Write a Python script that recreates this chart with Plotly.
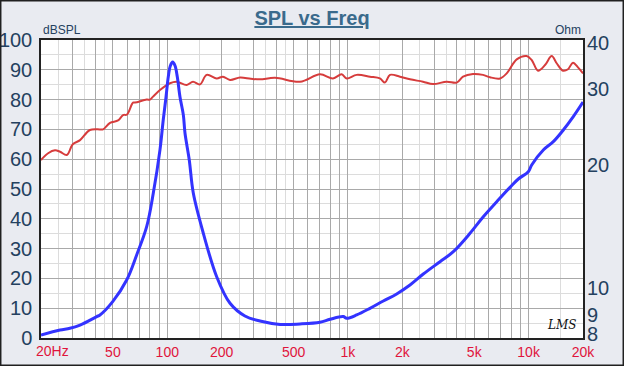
import plotly.graph_objects as go

# ---------------- data ----------------
spl_freq = [20, 21.9, 23.9, 25.5, 27.8, 30, 32.9, 37.3, 42.4, 44.1, 48.2, 53.4, 56.9, 59.8,
            64.6, 66.3, 76.9, 80.2, 83.4, 91.1, 103.5, 112.8, 128.1, 138.8, 151.7, 165.2,
            187.7, 203.4, 222.5, 252.8, 290, 326, 395, 543, 700, 826, 923, 984, 1118, 1324,
            1504, 1603, 1709, 1941, 2205, 2602, 2955, 3520, 4001, 4335, 4922, 5592, 6114,
            6945, 7563, 8591, 9758, 10400, 11271, 12325, 13421, 14303, 15497, 16516, 17600,
            18761, 20000]
spl_db = [59.7, 62.0, 63.0, 62.5, 61.4, 65.0, 66.4, 69.8, 70.0, 70.0, 72.2, 73.0, 74.8, 75.0,
          79.0, 79.0, 80.0, 80.0, 81.0, 83.2, 85.5, 86.0, 84.9, 86.0, 85.1, 88.3,
          87.1, 87.7, 86.6, 87.4, 87.0, 86.8, 87.3, 86.0, 88.5, 87.1, 88.5, 87.1, 88.3, 87.7,
          87.1, 85.7, 88.3, 87.7, 86.8, 86.0, 85.2, 86.0, 85.7, 87.7, 88.6, 88.3, 87.5,
          87.1, 88.8, 93.5, 94.6, 93.3, 89.7, 91.6, 94.6, 92.2, 89.7, 90.2, 92.4,
          90.8, 88.8]

imp_freq = [20, 25.5, 28.9, 32.9, 40.7, 42.4, 50, 59.6, 67.7, 76.9, 83.7, 91.1, 95, 98.4,
            101.3, 104, 107.1, 110.4, 113.6, 117.6, 122.7, 125.3, 132.4, 139.3, 158.2, 187.7,
            222.5, 269, 326, 421, 543, 700, 796, 942, 984, 1118, 1324, 1569, 1861, 2205,
            2612, 3232, 3830, 4738, 5612, 6660, 7888, 8770, 9960, 10400, 12058, 13697,
            15562, 17675, 20000]
imp_ohm = [8.13, 8.35, 8.43, 8.58, 8.98, 9.06, 9.75, 10.94, 12.53, 14.6, 17.5, 22.1, 26.0, 29.4,
           32.8, 34.8, 35.5, 34.8, 32.8, 29.4, 26.7, 24.2, 20.9, 17.5, 14.1, 11.14,
           9.65, 9.01, 8.77, 8.61, 8.63, 8.71, 8.85, 8.98, 8.90, 9.06, 9.39, 9.77, 10.15, 10.65,
           11.30, 12.08, 12.75, 14.08, 15.40, 16.70, 18.05, 18.88, 19.64, 20.37, 22.08, 23.10,
           24.60, 26.44, 28.6]

x_grid_major = [20, 30, 40, 50, 60, 70, 80, 90, 100, 200, 300, 400, 500, 600, 700, 800, 900,
                1000, 2000, 3000, 4000, 5000, 6000, 7000, 8000, 9000, 10000, 20000]
x_label_vals = [50, 100, 200, 500, 1000, 2000, 5000, 10000, 20000]
x_label_text = ["50", "100", "200", "500", "1k", "2k", "5k", "10k", "20k"]
x_grid_minor = [25, 35, 45, 150, 250, 350, 450, 1500, 2500, 3500, 4500, 15000]

y_left_ticks = [0, 10, 20, 30, 40, 50, 60, 70, 80, 90, 100]
# right-axis labels and the places where the reference prints them
y_right_text = ["8", "9", "10", "20", "30", "40"]
y_right_pos = [8.17, 9.06, 10.48, 20.4, 30.7, 39.4]

# ---------------- styles ----------------
FONT = "Liberation Sans, Arial, sans-serif"
AXIS_BLUE = "#24415f"
LABEL_RED = "#e0143c"
BG = "#e9ebf1"

x_ticktext = [x_label_text[x_label_vals.index(v)] if v in x_label_vals else "" for v in x_grid_major]

fig = go.Figure()
fig.add_trace(go.Scatter(x=spl_freq, y=spl_db, mode="lines",
                         line=dict(color="#d63c3c", width=2, shape="spline"),
                         yaxis="y", showlegend=False))
fig.add_trace(go.Scatter(x=imp_freq, y=imp_ohm, mode="lines",
                         line=dict(color="#3333ff", width=3, shape="spline"),
                         yaxis="y2", showlegend=False))

fig.update_layout(
    width=624, height=366,
    margin=dict(l=41, r=41, t=40, b=28, autoexpand=False),
    paper_bgcolor=BG, plot_bgcolor="white",
    font=dict(family=FONT),
    xaxis=dict(type="log", range=[1.30103, 4.30103], automargin=False,
               tickmode="array", tickvals=x_grid_major, ticktext=x_ticktext,
               tickfont=dict(color=LABEL_RED, size=14, family=FONT),
               showgrid=True, gridcolor="#a9a9a9", gridwidth=1,
               minor=dict(tickmode="array", tickvals=x_grid_minor, showgrid=True,
                          gridcolor="#dcdcdc", gridwidth=1),
               showline=True, linecolor="#222222", linewidth=1.5, mirror=True,
               ticks="", zeroline=False),
    yaxis=dict(range=[0, 100], tickmode="array", tickvals=y_left_ticks, automargin=False,
               tickfont=dict(color=AXIS_BLUE, size=20, family=FONT),
               ticklabelstandoff=3,
               showgrid=True, gridcolor="#a9a9a9", gridwidth=1,
               minor=dict(dtick=5, showgrid=True, gridcolor="#dcdcdc", gridwidth=1),
               showline=True, linecolor="#222222", linewidth=1.5, mirror=True,
               ticks="", zeroline=False),
    yaxis2=dict(type="log", range=[0.90309, 1.60206], overlaying="y", side="right",
                automargin=False,
                tickmode="array", tickvals=y_right_pos, ticktext=y_right_text,
                tickfont=dict(color=AXIS_BLUE, size=20, family=FONT),
                ticklabelstandoff=3,
                showgrid=False, ticks="", zeroline=False, showline=False),
    title=dict(text="<b><u>SPL vs Freq</u></b>", x=0.5, xanchor="center", automargin=False,
               y=1 - 18 / 366, yref="container", yanchor="middle",
               font=dict(size=20, color="#3a6a8c", family=FONT)),
    annotations=[
        dict(text="dBSPL", xref="paper", yref="paper", x=0, y=1, xanchor="left", yanchor="bottom",
             showarrow=False, font=dict(size=12, color=AXIS_BLUE, family=FONT), yshift=1),
        dict(text="Ohm", xref="paper", yref="paper", x=1, y=1, xanchor="right", yanchor="bottom",
             showarrow=False, font=dict(size=12, color=AXIS_BLUE, family=FONT), yshift=1),
        dict(text="20Hz", xref="paper", yref="paper", x=0, y=0, xanchor="left", yanchor="top",
             xshift=-7, yshift=-3, showarrow=False,
             font=dict(size=14, color=LABEL_RED, family=FONT)),
        dict(text="<i>LMS</i>", xref="paper", yref="paper", x=0.99, y=0.015,
             xanchor="right", yanchor="bottom", showarrow=False,
             font=dict(size=12, color="#111111", family="DejaVu Serif")),
    ],
    shapes=[dict(type="rect", xref="paper", yref="paper", x0=-0.0757, x1=1.0757,
                 y0=-0.0940, y1=1.1342, line=dict(color="#202020", width=3))],
)

fig.write_html("out.html", config={"displayModeBar": False},
               post_script="document.body.style.margin='0';document.body.style.overflow='hidden';")
